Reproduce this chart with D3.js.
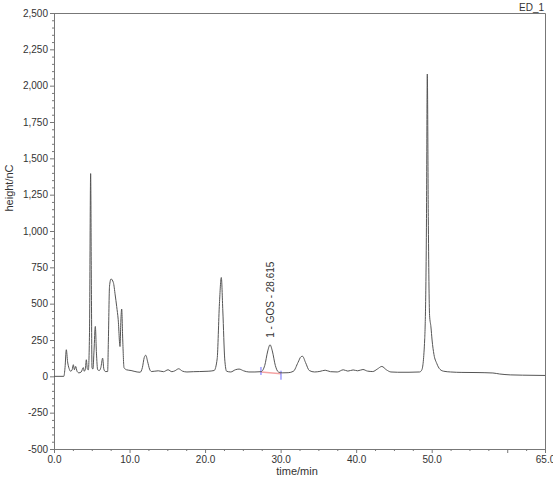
<!DOCTYPE html>
<html>
<head>
<meta charset="utf-8">
<script src="https://cdn.jsdelivr.net/npm/d3@7"></script>
<style>
  body { margin: 0; background: #fff; }
  text { font-family: "Liberation Sans", Arial, sans-serif; fill: #333; }
</style>
</head>
<body>
<svg id="chart" width="553" height="479"></svg>
<script>
// trace: [time/min, height/nC]
var trace = [
  [0,0],[1.3,0],[1.46,60],[1.63,183],[1.8,100],[1.99,55],[2.2,35],[2.4,45],[2.56,80],[2.7,45],
  [2.87,68],[3.05,35],[3.3,24],[3.6,30],[3.88,60],[4.0,35],[4.15,50],[4.28,114],[4.42,50],[4.55,45],
  [4.7,300],[4.85,1395],[4.95,600],[5.03,60],[5.15,50],[5.3,180],[5.47,343],[5.62,160],[5.78,45],
  [6.0,40],[6.2,60],[6.44,125],[6.6,50],[6.8,33],[7.1,33],[7.2,250],[7.35,620],[7.55,670],
  [7.86,645],[8.1,560],[8.3,480],[8.5,390],[8.74,205],[8.85,380],[8.96,463],[9.1,250],[9.27,60],
  [9.6,45],[10.2,40],[11.0,30],[11.4,28],[11.7,60],[11.95,130],[12.15,145],[12.4,100],[12.65,50],
  [12.9,33],[13.8,38],[14.5,32],[15.1,45],[15.6,32],[16.0,38],[16.5,52],[17.0,36],[17.6,30],
  [18.5,32],[19.3,33],[20.4,35],[21.2,40],[21.6,120],[21.9,500],[22.15,680],[22.35,450],[22.6,120],
  [22.85,35],[23.4,30],[24.0,45],[24.5,50],[25.1,38],[25.8,30],[26.6,30],[27.4,32],[27.9,75],
  [28.3,175],[28.6,217],[28.9,175],[29.3,75],[29.7,30],[30.2,24],[31.0,25],[31.7,35],[32.3,95],
  [32.7,135],[32.9,138],[33.3,95],[33.8,40],[34.5,30],[35.2,34],[35.9,42],[36.6,32],[37.5,30],
  [38.3,45],[38.9,36],[39.6,44],[40.2,38],[40.9,47],[41.5,36],[42.2,33],[42.8,50],[43.4,68],
  [44.0,45],[44.6,30],[45.5,28],[47.0,28],[48.4,30],[48.7,45],[49.07,250],[49.3,1000],[49.42,2080],
  [49.55,1100],[49.72,420],[49.9,340],[50.05,250],[50.3,150],[50.66,90],[51.1,48],[51.6,35],
  [52.5,30],[54,27],[56,26],[58.1,23],[59,16],[60.4,10],[62,8],[65,6]
];

var xTickLabels = [0, 10, 20, 30, 40, 50, 65];
var xMajorTicks = [0, 10, 20, 30, 40, 50, 60, 65];
var yTickValues = [-500, -250, 0, 250, 500, 750, 1000, 1250, 1500, 1750, 2000, 2250, 2500];

var peakName = "1 - GOS - 28.615";
var peakTime = 28.615, peakHeight = 217;
var integStart = [27.4, 30], integEnd = [30.05, 18];

var svg = d3.select("#chart");
var mLeft = 54, mRight = 545, mTop = 13, mBottom = 449;

var x = d3.scaleLinear().domain([0, 65]).range([mLeft, mRight]);
var y = d3.scaleLinear().domain([-500, 2500]).range([mBottom, mTop]);

var axisColor = "#777";
var commaFmt = d3.format(",");

// frame (top + right)
svg.append("path")
    .attr("d", "M" + mLeft + "," + (mTop + 0.5) + "H" + (mRight + 0.5) + "V" + mBottom)
    .attr("fill", "none")
    .attr("stroke", axisColor)
    .attr("stroke-width", 1);

// y axis
var yAxis = svg.append("g")
    .attr("transform", "translate(" + mLeft + ",0)")
    .call(d3.axisLeft(y).tickValues(yTickValues).tickSize(4).tickSizeOuter(0).tickPadding(2)
      .tickFormat(function(d) { return commaFmt(d).replace("\u2212", "-"); }));
var yMinor = svg.append("g")
    .attr("transform", "translate(" + mLeft + ",0)")
    .call(d3.axisLeft(y).tickValues(d3.range(-500, 2501, 50).filter(function(v) { return v % 250 != 0; }))
      .tickSize(2).tickFormat(""));
yMinor.select(".domain").remove();

// x axis
var xAxis = svg.append("g")
    .attr("transform", "translate(0," + mBottom + ")")
    .call(d3.axisBottom(x).tickValues(xTickLabels).tickSize(4).tickSizeOuter(0).tickPadding(3)
      .tickFormat(d3.format(".1f")));
var xMinor = svg.append("g")
    .attr("transform", "translate(0," + mBottom + ")")
    .call(d3.axisBottom(x).tickValues(d3.range(2.5, 65, 2.5).filter(function(v) { return xMajorTicks.indexOf(v) < 0; }))
      .tickSize(2).tickFormat(""));
xMinor.select(".domain").remove();
var x60 = svg.append("g")
    .attr("transform", "translate(0," + mBottom + ")")
    .call(d3.axisBottom(x).tickValues([60]).tickSize(4).tickFormat(""));
x60.select(".domain").remove();

svg.selectAll(".domain, .tick line").attr("stroke", axisColor);
svg.selectAll(".tick text").attr("font-size", 10).attr("fill", "#333")
    .attr("font-family", "Liberation Sans, Arial, sans-serif");

// axis titles
svg.append("text")
    .attr("x", 297).attr("y", 475)
    .attr("text-anchor", "middle")
    .attr("font-size", 11)
    .text("time/min");

svg.append("text")
    .attr("transform", "translate(13,188)rotate(-90)")
    .attr("text-anchor", "middle")
    .attr("font-size", 11)
    .text("height/nC");

svg.append("text")
    .attr("x", 544).attr("y", 11)
    .attr("text-anchor", "end")
    .attr("font-size", 10)
    .text("ED_1");

// integration baseline
svg.append("line")
    .attr("x1", x(integStart[0])).attr("y1", y(integStart[1]))
    .attr("x2", x(integEnd[0])).attr("y2", y(integEnd[1]))
    .attr("stroke", "#f5a3a3").attr("stroke-width", 1.5);
svg.append("line")
    .attr("x1", x(integStart[0])).attr("x2", x(integStart[0]))
    .attr("y1", y(integStart[1]) - 5).attr("y2", y(integStart[1]) + 3)
    .attr("stroke", "#6b6bff");
svg.append("line")
    .attr("x1", x(integEnd[0])).attr("x2", x(integEnd[0]))
    .attr("y1", y(integEnd[1]) - 3).attr("y2", y(integEnd[1]) + 6)
    .attr("stroke", "#6b6bff");

// trace
var line = d3.line()
    .curve(d3.curveMonotoneX)
    .x(function(d) { return x(d[0]); })
    .y(function(d) { return y(d[1]); });

svg.append("path")
    .datum(trace)
    .attr("d", line)
    .attr("fill", "none")
    .attr("stroke", "#555")
    .attr("stroke-width", 1);

// peak label
svg.append("text")
    .attr("transform", "translate(" + (x(peakTime) + 3.5) + "," + (y(peakHeight) - 7) + ")rotate(-90)")
    .attr("font-size", 10)
    .text(peakName);
</script>
</body>
</html>
